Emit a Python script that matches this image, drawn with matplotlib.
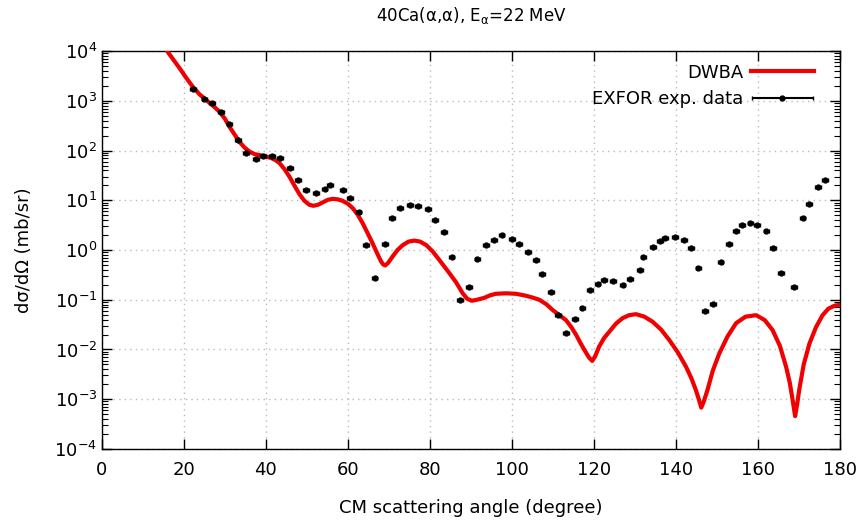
import numpy as np
import matplotlib
matplotlib.use('Agg')
import matplotlib.pyplot as plt
from matplotlib.ticker import LogLocator, FixedLocator
from matplotlib.container import ErrorbarContainer
from matplotlib.legend_handler import HandlerErrorbar

# DWBA curve (angle in degree, log10 of cross section in mb/sr)
dwba_angle = [15.5, 16.0, 17.5, 19.0, 20.5, 22.1, 23.7, 25.4, 27.0, 28.7,
              30.0, 31.1, 32.3, 33.5, 34.8, 36.0, 37.2, 38.4, 40.0, 41.3,
              42.3, 43.3, 44.5, 45.7, 47.0, 48.2, 49.4, 50.6, 51.6, 52.7,
              53.9, 55.1, 56.3, 57.5, 58.7, 60.0, 61.2, 62.4, 63.6, 64.8,
              66.0, 67.1, 68.1, 68.6, 69.1, 69.8, 70.9, 72.1, 73.4, 74.8,
              76.2, 77.6, 79.1, 80.7, 82.3, 83.6, 84.8, 86.4, 88.0, 89.1,
              90.2, 91.5, 93.3, 94.7, 96.1, 98.6, 101.0, 103.5, 105.2, 106.7,
              108.4, 110.0, 111.6, 113.2, 114.5, 115.7, 116.8, 117.7, 118.8, 119.6,
              120.3, 121.3, 122.5, 123.8, 125.4, 127.0, 128.6, 130.3, 132.3, 134.3,
              136.4, 138.4, 140.5, 142.5, 143.8, 144.9, 145.6, 146.2, 146.8, 147.7,
              149.0, 150.6, 152.6, 154.7, 157.0, 159.6, 161.7, 163.6, 165.4, 166.9,
              167.8, 168.5, 169.1, 169.6, 170.1, 171.2, 172.6, 174.2, 175.8, 177.2,
              178.7, 180.0]
dwba_log = [4.10, 3.99, 3.82, 3.65, 3.47, 3.29, 3.14, 3.02, 2.91, 2.78,
            2.64, 2.48, 2.33, 2.18, 2.06, 1.98, 1.93, 1.91, 1.88, 1.85,
            1.81, 1.75, 1.63, 1.48, 1.29, 1.12, 0.99, 0.91, 0.89, 0.91,
            0.96, 1.01, 1.03, 1.02, 0.99, 0.93, 0.84, 0.71, 0.54, 0.34,
            0.14, -0.06, -0.23, -0.29, -0.31, -0.26, -0.13, 0.00, 0.10, 0.17,
            0.19, 0.17, 0.10, -0.03, -0.20, -0.34, -0.47, -0.65, -0.87, -0.98,
            -1.02, -1.00, -0.96, -0.91, -0.88, -0.87, -0.88, -0.92, -0.96, -1.00,
            -1.09, -1.21, -1.31, -1.41, -1.55, -1.71, -1.88, -2.01, -2.16, -2.23,
            -2.14, -1.94, -1.77, -1.64, -1.48, -1.37, -1.31, -1.29, -1.34, -1.44,
            -1.60, -1.81, -2.06, -2.35, -2.58, -2.82, -3.00, -3.17, -3.05, -2.82,
            -2.43, -2.08, -1.74, -1.47, -1.34, -1.31, -1.41, -1.61, -1.93, -2.35,
            -2.67, -3.02, -3.34, -3.10, -2.81, -2.30, -1.88, -1.55, -1.31, -1.18,
            -1.12, -1.10]

# EXFOR experimental data
exp_angle = [22.3, 25.0, 26.9, 29.1, 31.1, 33.1, 35.2, 37.5, 39.3, 41.4,
             43.4, 45.8, 47.9, 49.8, 52.2, 54.3, 55.6, 58.8, 60.6, 62.6,
             64.5, 66.5, 69.0, 70.8, 72.7, 75.2, 77.1, 79.6, 81.3, 83.5,
             85.3, 87.4, 89.6, 91.6, 93.7, 95.6, 97.5, 100.0, 101.7, 103.9,
             105.8, 107.3, 109.5, 111.3, 113.2, 115.4, 117.2, 119.0, 120.9, 122.4,
             124.7, 127.0, 128.8, 131.2, 132.1, 134.5, 136.1, 137.4, 139.8, 142.0,
             143.7, 145.5, 147.2, 149.1, 150.9, 153.0, 154.7, 156.2, 158.2, 159.8,
             162.1, 163.7, 165.6, 168.8, 170.9, 172.5, 174.6, 176.4]
exp_log = [3.24, 3.03, 2.95, 2.78, 2.54, 2.22, 1.96, 1.83, 1.89, 1.89,
           1.85, 1.64, 1.40, 1.20, 1.15, 1.22, 1.31, 1.20, 1.05, 0.76,
           0.11, -0.57, 0.13, 0.65, 0.84, 0.91, 0.89, 0.82, 0.60, 0.37,
           -0.14, -1.00, -0.75, -0.18, 0.11, 0.20, 0.30, 0.23, 0.12, -0.03,
           -0.21, -0.48, -0.85, -1.31, -1.67, -1.38, -1.17, -0.80, -0.68, -0.60,
           -0.63, -0.71, -0.59, -0.40, -0.15, 0.06, 0.19, 0.25, 0.26, 0.21,
           0.05, -0.36, -1.22, -1.08, -0.25, 0.13, 0.39, 0.50, 0.55, 0.50,
           0.38, 0.05, -0.47, -0.74, 0.64, 0.93, 1.26, 1.40]

dwba_y = 10.0 ** np.array(dwba_log)
exp_y = 10.0 ** np.array(exp_log)

plt.rcParams['font.family'] = 'DejaVu Sans'
fig = plt.figure(figsize=(8.64, 5.22), dpi=100)
ax = fig.add_axes([0.118, 0.140, 0.854, 0.762])

ax.plot(dwba_angle, dwba_y, color='#f00000', lw=3, label='DWBA',
        solid_joinstyle='round', zorder=3)
ax.errorbar(exp_angle, exp_y, xerr=0.7, fmt='o', ms=3.5,
            color='black', ecolor='black', elinewidth=1.5, capsize=1.5,
            label='EXFOR exp. data', zorder=4)

ax.set_yscale('log')
ax.set_xlim(0, 180)
ax.set_ylim(1e-4, 1e4)
ax.xaxis.set_major_locator(FixedLocator(np.arange(0, 181, 20)))
ax.yaxis.set_major_locator(LogLocator(base=10, numticks=20))
ax.yaxis.set_minor_locator(LogLocator(base=10, subs=np.arange(2, 10), numticks=20))
ax.tick_params(which='both', direction='in', top=True, right=True, labelsize=13)
ax.tick_params(which='major', length=7, width=1)
ax.tick_params(which='minor', length=4, width=0.8)
ax.tick_params(axis='x', pad=9)
ax.grid(True, which='major', color='#bbbbbb', linestyle=(0, (1, 3)), lw=1)
for s in ax.spines.values():
    s.set_linewidth(1)

ax.set_xlabel('CM scattering angle (degree)', fontsize=13, labelpad=14)
ax.set_ylabel('dσ/dΩ (mb/sr)', fontsize=13, labelpad=15)
ax.set_title('40Ca(α,α), E$_{\\mathregular{α}}$=22 MeV', fontsize=12, pad=22)

ax.legend(loc='upper right', bbox_to_anchor=(0.982, 1.0), frameon=False,
          markerfirst=False, fontsize=13, handlelength=3.5, handletextpad=0.4,
          borderaxespad=0.3, labelspacing=0.45,
          handler_map={ErrorbarContainer: HandlerErrorbar(xerr_size=1.7, yerr_size=0.3)})

plt.savefig('out.png', dpi=100)
